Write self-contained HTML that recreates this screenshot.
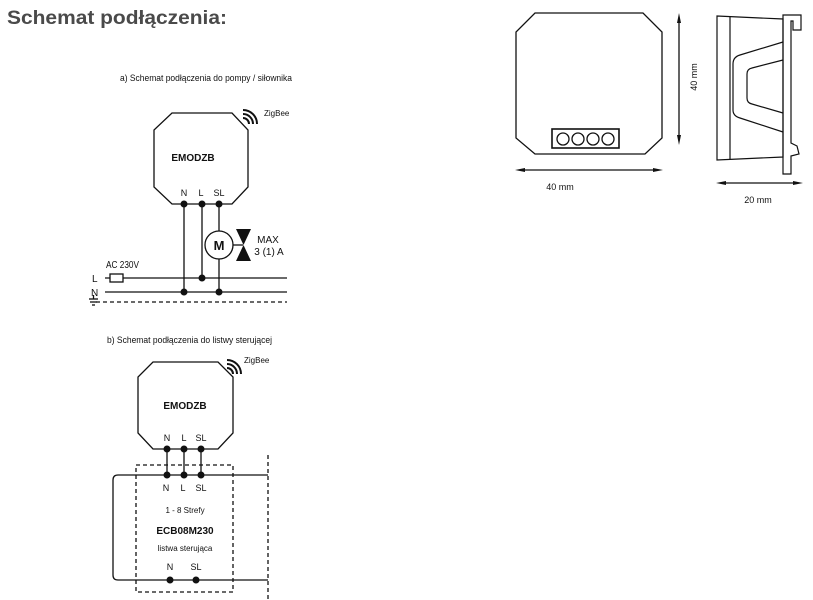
<!DOCTYPE html>
<html><head><meta charset="utf-8"><style>
html,body{margin:0;padding:0;background:#fff;width:813px;height:600px;overflow:hidden}
svg{display:block}
text{font-family:"Liberation Sans",sans-serif;fill:#111}
.c{font-family:"Liberation Sans Narrow","Liberation Sans",sans-serif}
</style></head><body>
<svg width="813" height="600" viewBox="0 0 813 600" xmlns="http://www.w3.org/2000/svg">
<text x="7" y="24" font-size="19" font-weight="bold" style="fill:#4a4a4a" textLength="220" lengthAdjust="spacingAndGlyphs">Schemat podłączenia:</text>

<!-- Diagram a -->
<text x="120" y="81" font-size="9" textLength="172" lengthAdjust="spacingAndGlyphs">a) Schemat podłączenia do pompy / siłownika</text>
<g fill="none" stroke="#111" stroke-width="1.3">
<polygon points="172,113 232,113 248,130 248,187 232,204 172,204 154,187 154,130"/>
<path d="M243,118 a6,6 0 0 1 6,6 M243,114 a10,10 0 0 1 10,10 M243,110 a14,14 0 0 1 14,14" stroke-width="2"/>
<line x1="184" y1="204" x2="184" y2="292"/>
<line x1="202" y1="204" x2="202" y2="278"/>
<line x1="219" y1="204" x2="219" y2="231"/>
<line x1="219" y1="259" x2="219" y2="292"/>
<circle cx="219" cy="245" r="14"/>
<line x1="233" y1="245" x2="243" y2="245"/>
<line x1="105" y1="278" x2="287" y2="278"/>
<line x1="105" y1="292" x2="287" y2="292"/>
<line x1="96" y1="302" x2="287" y2="302" stroke-dasharray="4,3"/>
<rect x="110" y="274" width="13" height="8" fill="#fff"/>
<line x1="89" y1="299" x2="98" y2="299"/><line x1="90" y1="302" x2="97" y2="302"/><line x1="92" y1="305" x2="95" y2="305"/><line x1="93.5" y1="295" x2="93.5" y2="299"/>
</g>
<polygon points="236,229 251,229 236,261 251,261" fill="#111"/>
<g fill="#111"><circle cx="184" cy="204" r="3.5"/><circle cx="202" cy="204" r="3.5"/><circle cx="219" cy="204" r="3.5"/><circle cx="202" cy="278" r="3.5"/><circle cx="184" cy="292" r="3.5"/><circle cx="219" cy="292" r="3.5"/></g>
<text x="264" y="116" font-size="8">ZigBee</text>
<text x="193" y="161" font-size="10" font-weight="bold" text-anchor="middle">EMODZB</text>
<text class="c" x="184" y="196" font-size="9" text-anchor="middle">N</text>
<text class="c" x="201" y="196" font-size="9" text-anchor="middle">L</text>
<text class="c" x="219" y="196" font-size="9" text-anchor="middle">SL</text>
<text x="219" y="250" font-size="13" font-weight="bold" text-anchor="middle">M</text>
<text class="c" x="268" y="243" font-size="10" text-anchor="middle">MAX</text>
<text class="c" x="269" y="255" font-size="10" text-anchor="middle">3 (1) A</text>
<text class="c" x="106" y="268" font-size="10" textLength="33" lengthAdjust="spacingAndGlyphs">AC 230V</text>
<text class="c" x="92" y="282" font-size="10">L</text>
<text class="c" x="91" y="296" font-size="10">N</text>

<!-- Diagram b -->
<text x="107" y="343" font-size="9" textLength="165" lengthAdjust="spacingAndGlyphs">b) Schemat podłączenia do listwy sterującej</text>
<g fill="none" stroke="#111" stroke-width="1.3">
<polygon points="153,362 218,362 233,377 233,433 218,449 153,449 138,433 138,377"/>
<path d="M227,368 a6,6 0 0 1 6,6 M227,364 a10,10 0 0 1 10,10 M227,360 a14,14 0 0 1 14,14" stroke-width="2"/>
<line x1="167" y1="449" x2="167" y2="475"/><line x1="184" y1="449" x2="184" y2="475"/><line x1="201" y1="449" x2="201" y2="475"/>
<path d="M268,475 L118,475 Q113,475 113,480 L113,575 Q113,580 118,580 L268,580"/>
<rect x="136" y="465" width="97" height="127" stroke-dasharray="4,3"/>
<line x1="268" y1="455" x2="268" y2="600" stroke-dasharray="4,3"/>
</g>
<g fill="#111"><circle cx="167" cy="449" r="3.5"/><circle cx="184" cy="449" r="3.5"/><circle cx="201" cy="449" r="3.5"/><circle cx="167" cy="475" r="3.5"/><circle cx="184" cy="475" r="3.5"/><circle cx="201" cy="475" r="3.5"/><circle cx="170" cy="580" r="3.5"/><circle cx="196" cy="580" r="3.5"/></g>
<text x="244" y="363" font-size="8">ZigBee</text>
<text x="185" y="409" font-size="10" font-weight="bold" text-anchor="middle">EMODZB</text>
<text class="c" x="167" y="441" font-size="9" text-anchor="middle">N</text>
<text class="c" x="184" y="441" font-size="9" text-anchor="middle">L</text>
<text class="c" x="201" y="441" font-size="9" text-anchor="middle">SL</text>
<text class="c" x="166" y="491" font-size="9" text-anchor="middle">N</text>
<text class="c" x="183" y="491" font-size="9" text-anchor="middle">L</text>
<text class="c" x="201" y="491" font-size="9" text-anchor="middle">SL</text>
<text class="c" x="185" y="513" font-size="8" text-anchor="middle">1 - 8 Strefy</text>
<text x="185" y="534" font-size="10" font-weight="bold" text-anchor="middle">ECB08M230</text>
<text class="c" x="185" y="551" font-size="8" text-anchor="middle">listwa sterująca</text>
<text class="c" x="170" y="570" font-size="9" text-anchor="middle">N</text>
<text class="c" x="196" y="570" font-size="9" text-anchor="middle">SL</text>

<!-- Dimensions front -->
<g fill="none" stroke="#111" stroke-width="1.3">
<polygon points="535,13 643,13 662,32 662,138 645,154 535,154 516,138 516,32"/>
<rect x="552" y="129" width="67" height="19" stroke-width="1.6"/>
<circle cx="563" cy="139" r="6"/><circle cx="578" cy="139" r="6"/><circle cx="593" cy="139" r="6"/><circle cx="608" cy="139" r="6"/>
<line x1="522" y1="170" x2="656" y2="170"/>
<line x1="679" y1="20" x2="679" y2="138"/>
<line x1="723" y1="183" x2="796" y2="183"/>
</g>
<g fill="#111">
<polygon points="515,170 525,168 525,172"/><polygon points="663,170 653,168 653,172"/>
<polygon points="679,13 677,23 681,23"/><polygon points="679,145 677,135 681,135"/>
<polygon points="716,183 726,181 726,185"/><polygon points="803,183 793,181 793,185"/>
</g>
<text class="c" x="560" y="190" font-size="9" text-anchor="middle">40 mm</text>
<text class="c" x="0" y="0" font-size="9" text-anchor="middle" transform="translate(697,77) rotate(-90)">40 mm</text>
<text class="c" x="758" y="203" font-size="9" text-anchor="middle">20 mm</text>

<!-- Side view -->
<g fill="none" stroke="#111" stroke-width="1.2">
<polygon points="717,16 783,19 783,157 717,160"/>
<line x1="730" y1="16.5" x2="730" y2="159.5"/>
<path d="M783,42 L740,55 Q733,57 733,64 L733,110 Q733,116 740,118 L783,132"/>
<path d="M783,60 L752,68 Q747,69 747,74 L747,98 Q747,103 752,104 L783,113"/>
<path d="M783,15 L801,15 L801,30 L793,30 L793,21 L791,21 L791,143 L797,146 L799,154 L791,156 L791,174 L783,174 Z"/>
</g>
</svg>
</body></html>
